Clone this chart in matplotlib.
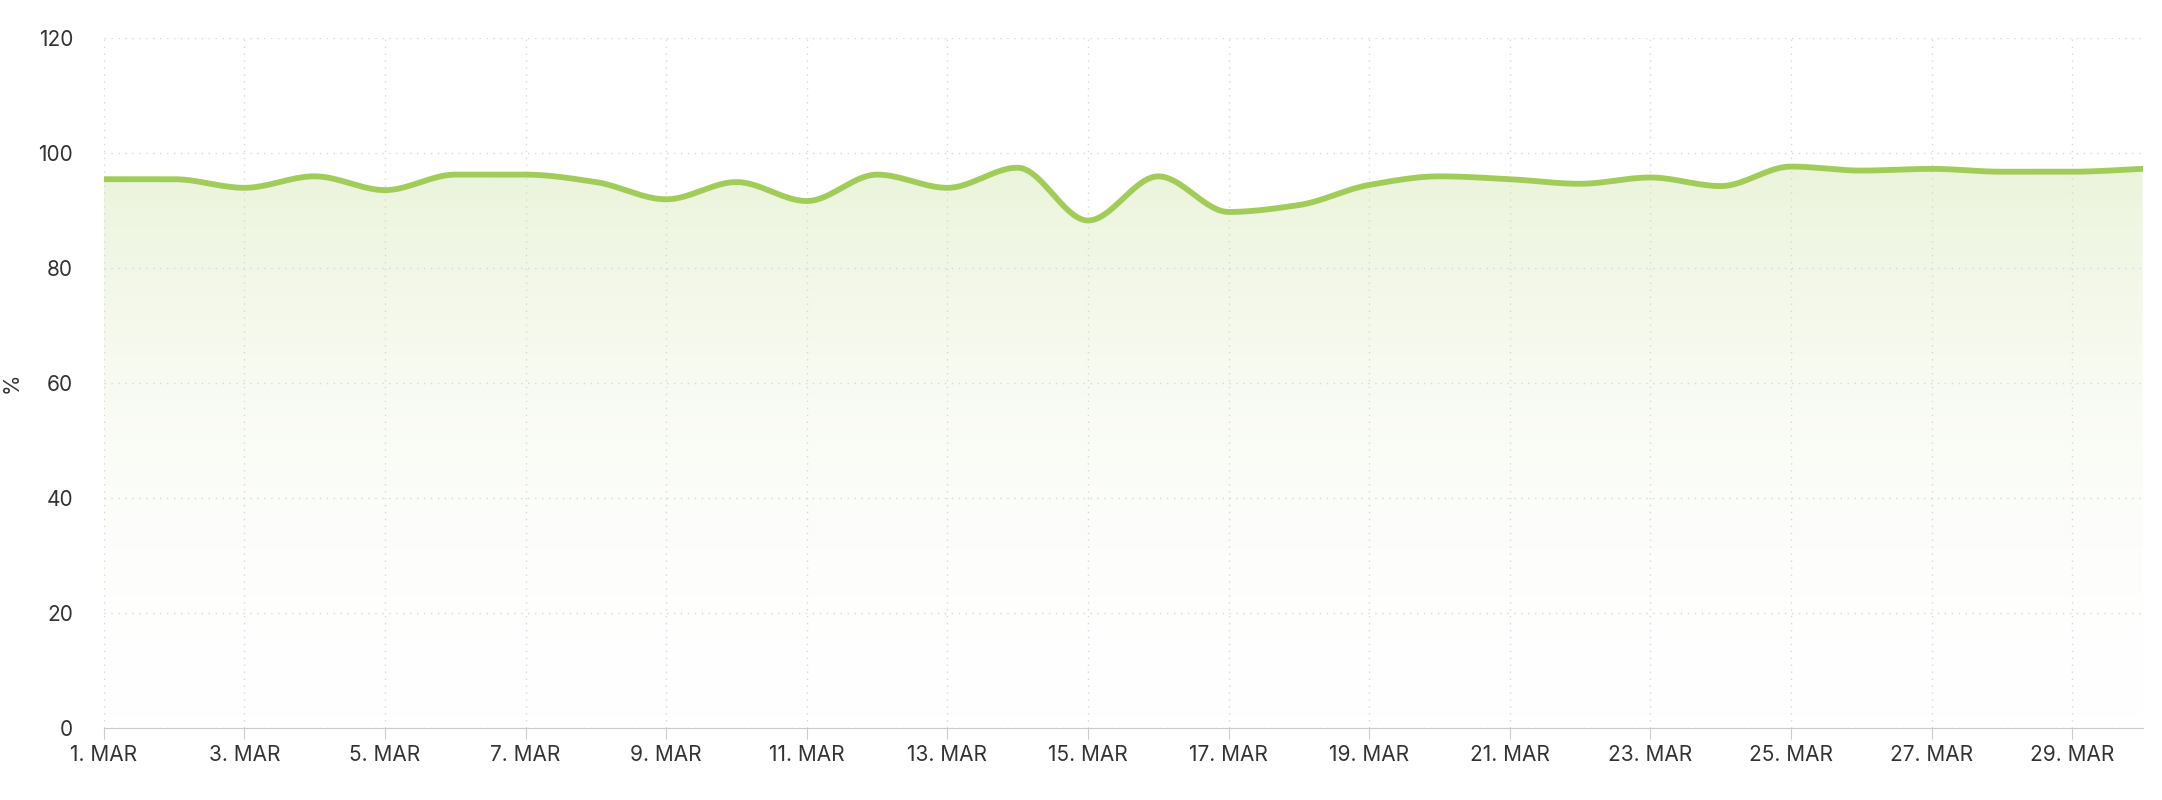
import matplotlib.pyplot as plt
import numpy as np
from matplotlib.colors import LinearSegmentedColormap

plt.rcParams['font.family'] = ['Inter', 'DejaVu Sans']

days = np.arange(1, 31)
values = [95.5, 95.5, 94.0, 96.0, 93.6, 96.3, 96.3, 95.0, 92.0, 95.0,
          91.7, 96.3, 94.0, 97.5, 88.3, 96.0, 89.8, 91.0, 94.5, 96.0,
          95.5, 94.7, 95.8, 94.3, 97.7, 97.0, 97.3, 96.8, 96.8, 97.3]
tick_days = np.arange(1, 31, 2)
tick_labels = [f"{d}. MAR" for d in tick_days]


def smooth(x, y, n=20):
    # monotone cubic hermite for a smooth drawn line
    x = np.asarray(x, float)
    y = np.asarray(y, float)
    h = np.diff(x)
    d = np.diff(y) / h
    m = np.zeros_like(y)
    m[0], m[-1] = d[0], d[-1]
    for i in range(1, len(y) - 1):
        if d[i - 1] * d[i] > 0:
            m[i] = 2 / (1 / d[i - 1] + 1 / d[i])
    xs, ys = [], []
    for i in range(len(h)):
        t = np.linspace(0, 1, n, endpoint=False)
        h00 = 2 * t**3 - 3 * t**2 + 1
        h10 = t**3 - 2 * t**2 + t
        h01 = -2 * t**3 + 3 * t**2
        h11 = t**3 - t**2
        xs.append(x[i] + t * h[i])
        ys.append(h00 * y[i] + h10 * h[i] * m[i] + h01 * y[i + 1] + h11 * h[i] * m[i + 1])
    xs.append([x[-1]])
    ys.append([y[-1]])
    return np.concatenate(xs), np.concatenate(ys)


fig = plt.figure(figsize=(21.62, 8), dpi=100)
ax = fig.add_axes([0.048, 0.09, 0.943, 0.862])

sx, sy = smooth(days, values)
line_color = "#a2cc5a"

# gradient fill under the curve
cmap = LinearSegmentedColormap.from_list("g", [(1, 1, 1, 0), (0.64, 0.8, 0.35, 0.22)])
grad = np.linspace(0, 1, 256).reshape(-1, 1)
img = ax.imshow(grad, extent=[1, 30, 0, max(values)], origin="lower", aspect="auto",
                cmap=cmap, zorder=1)
poly = ax.fill_between(sx, 0, sy, color="none", lw=0)
img.set_clip_path(poly.get_paths()[0], transform=ax.transData)

ax.plot(sx, sy, color=line_color, lw=4.2, solid_capstyle="round", zorder=3)

ax.set_xlim(1, 30)
ax.set_ylim(0, 120)
ax.set_yticks(np.arange(0, 121, 20))
ax.set_xticks(tick_days)
ax.set_xticklabels(tick_labels)
ax.set_ylabel("%", fontsize=15, color="#333333", labelpad=12)
ax.grid(True, linestyle=(0, (1, 4)), color="#d8d8d8", lw=1)
for s in ["top", "right", "left"]:
    ax.spines[s].set_visible(False)
ax.spines["bottom"].set_color("#cccccc")
ax.tick_params(axis="x", length=8, color="#cccccc", labelsize=15, labelcolor="#333333", pad=4)
ax.tick_params(axis="y", length=0, labelsize=15, labelcolor="#333333", pad=22)

fig.savefig("out.png")
